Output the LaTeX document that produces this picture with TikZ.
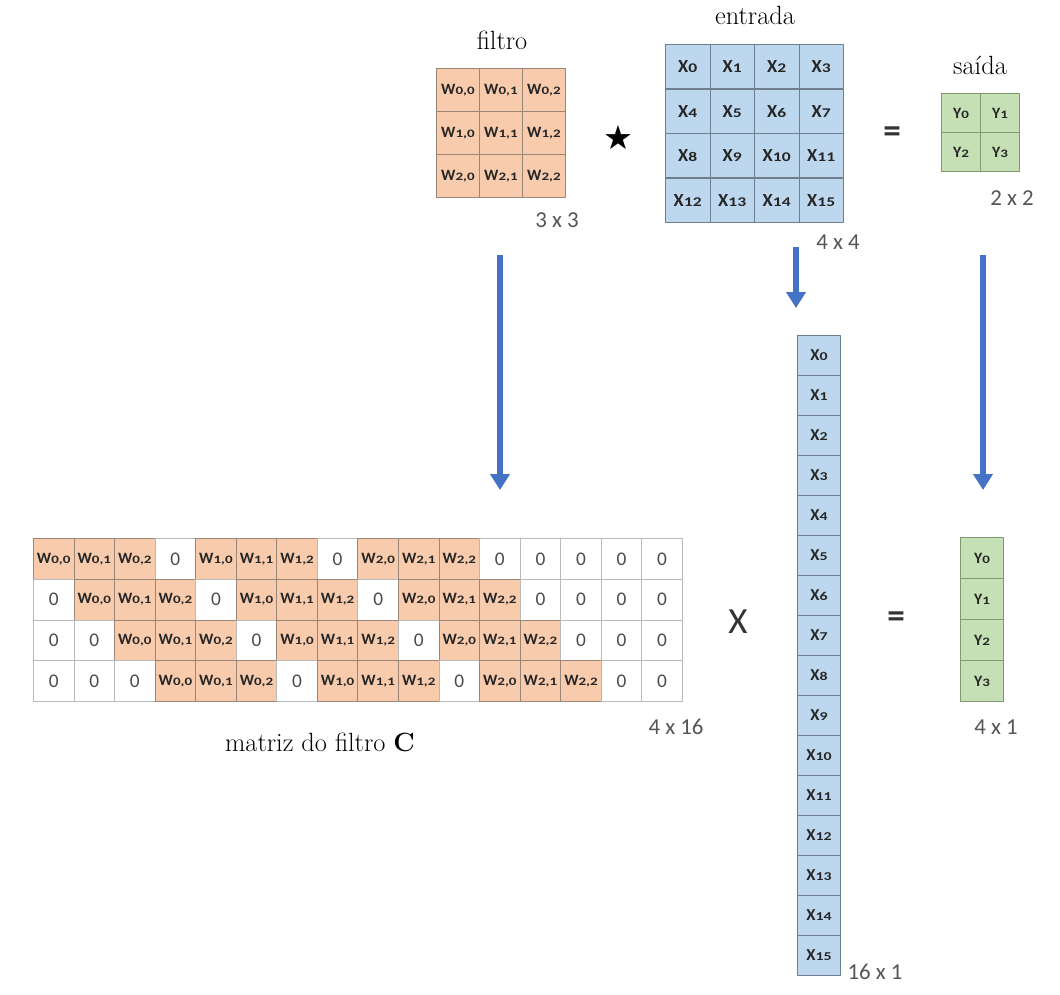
\documentclass[tikz,border=0pt]{standalone}
\usepackage{fontspec}
\newfontfamily\calfont{Carlito}
\newfontfamily\symfont{DejaVu Sans}
\usetikzlibrary{arrows.meta}
\definecolor{wfill}{HTML}{F8CBAD}
\definecolor{xfill}{HTML}{BDD7EE}
\definecolor{yfill}{HTML}{C5E0B4}
\definecolor{wline}{HTML}{9A8676}
\definecolor{xline}{HTML}{6F7F90}
\definecolor{yline}{HTML}{7F9A70}
\definecolor{arrowblue}{HTML}{4472C4}
\definecolor{dimgray}{HTML}{555555}
% indice baixo, como no original
\newcommand{\idx}[1]{\scalebox{0.95}[0.72]{#1}}
\tikzset{
  cell/.style={draw=#1,line width=0.5pt,inner sep=0pt,anchor=north west,text=black!85},
  wcell/.style={cell=wline,fill=wfill,font=\calfont\bfseries\fontsize{9}{10}\selectfont},
  zcell/.style={cell=gray!55,fill=white,font=\calfont\fontsize{11}{12}\selectfont,text=black!70},
  xcell/.style={cell=xline,fill=xfill,font=\calfont\bfseries\fontsize{10.5}{11}\selectfont},
  ycell/.style={cell=yline,fill=yfill,font=\calfont\bfseries\fontsize{9}{10}\selectfont},
  title/.style={font=\fontsize{15}{18}\selectfont},
  dimtext/.style={font=\calfont\fontsize{13}{14}\selectfont,text=dimgray},
  optext/.style={font=\calfont\fontsize{#1}{#1}\selectfont,text=black!80},
  bigarrow/.style={arrowblue,line width=3.4pt,-{Triangle[width=0.38cm,length=0.32cm]}}
}
\begin{document}
\begin{tikzpicture}[x=0.02cm,y=-0.02cm,line join=round]
\useasboundingbox (0,0) rectangle (1060,994);
% filtro 3 x 3
\foreach \r in {0,1,2}
\foreach \c in {0,1,2}
{
\node[wcell,minimum width=0.86cm,minimum height=0.86cm] (f\r\c) at (436+43*\c,68+43*\r) {W\idx{\r,\c}};
}
% entrada 4 x 4
\foreach \k in {0,...,15}
{
\pgfmathtruncatemacro\r{div(\k,4)}
\pgfmathtruncatemacro\c{mod(\k,4)}
\node[xcell,minimum width=0.89cm,minimum height=0.89cm] (in\k) at (665+44.5*\c,44+44.5*\r) {X\idx{\k}};
}
% saida 2 x 2
\foreach \k in {0,...,3}
{
\pgfmathtruncatemacro\r{div(\k,2)}
\pgfmathtruncatemacro\c{mod(\k,2)}
\node[ycell,minimum width=0.78cm,minimum height=0.78cm] (out\k) at (941+39*\c,93+39*\r) {Y\idx{\k}};
}
% matriz do filtro 4 x 16
\foreach \r in {0,...,3}
\foreach \c in {0,...,15}
{
\pgfmathtruncatemacro\k{\c-\r}
\pgfmathtruncatemacro\i{div(\k,4)}
\pgfmathtruncatemacro\j{mod(\k,4)}
\pgfmathtruncatemacro\isw{(\k>=0)&&(\k<=10)&&(\j!=3)}
\ifnum\isw=1
\node[wcell,minimum width=0.811cm,minimum height=0.815cm] (m\r-\c) at (33+40.56*\c,538+40.75*\r) {W\idx{\i,\j}};
\else
\node[zcell,minimum width=0.811cm,minimum height=0.815cm] (m\r-\c) at (33+40.56*\c,538+40.75*\r) {0};
\fi
}
% vetor de entrada 16 x 1
\foreach \k in {0,...,15}
{
\node[xcell,minimum width=0.86cm,minimum height=0.8cm,font=\calfont\bfseries\fontsize{9.5}{10}\selectfont] (v\k) at (797,335+40*\k) {X\idx{\k}};
}
% vetor de saida 4 x 1
\foreach \k in {0,...,3}
{
\node[ycell,minimum width=0.86cm,minimum height=0.82cm] (o\k) at (960,537+41*\k) {Y\idx{\k}};
}
% titulos
\node[title] (tfil) at (502,40) {filtro};
\node[title] (tent) at (755,15) {entrada};
\node[title] (tsai) at (980,65) {saída};
\node[title] (tmat) at (320,742) {matriz do filtro \textbf{C}};
% dimensoes
\node[dimtext] (d33) at (557,220) {3 x 3};
\node[dimtext] (d44) at (838,242) {4 x 4};
\node[dimtext] (d22) at (1012,198) {2 x 2};
\node[dimtext] (d416) at (676,727) {4 x 16};
\node[dimtext] (d161) at (875,972) {16 x 1};
\node[dimtext] (d41) at (996,727) {4 x 1};
% operadores
\node[font=\symfont\fontsize{19}{19}\selectfont] (star) at (618,137) {★};
\node[optext=20,font=\calfont\bfseries\fontsize{20}{20}\selectfont] (eq1) at (892,135) {=};
\node[optext=21] (times) at (738,622) {X};
\node[optext=20,font=\calfont\bfseries\fontsize{20}{20}\selectfont] (eq2) at (896,620) {=};
% setas
\coordinate (a1s) at (500,255);
\coordinate (a1e) at (500,490);
\coordinate (a2s) at (796,247);
\coordinate (a2e) at (796,308);
\coordinate (a3s) at (983,255);
\coordinate (a3e) at (983,490);
\draw[bigarrow] (a1s) -- (a1e);
\draw[bigarrow] (a2s) -- (a2e);
\draw[bigarrow] (a3s) -- (a3e);
\end{tikzpicture}
\end{document}
